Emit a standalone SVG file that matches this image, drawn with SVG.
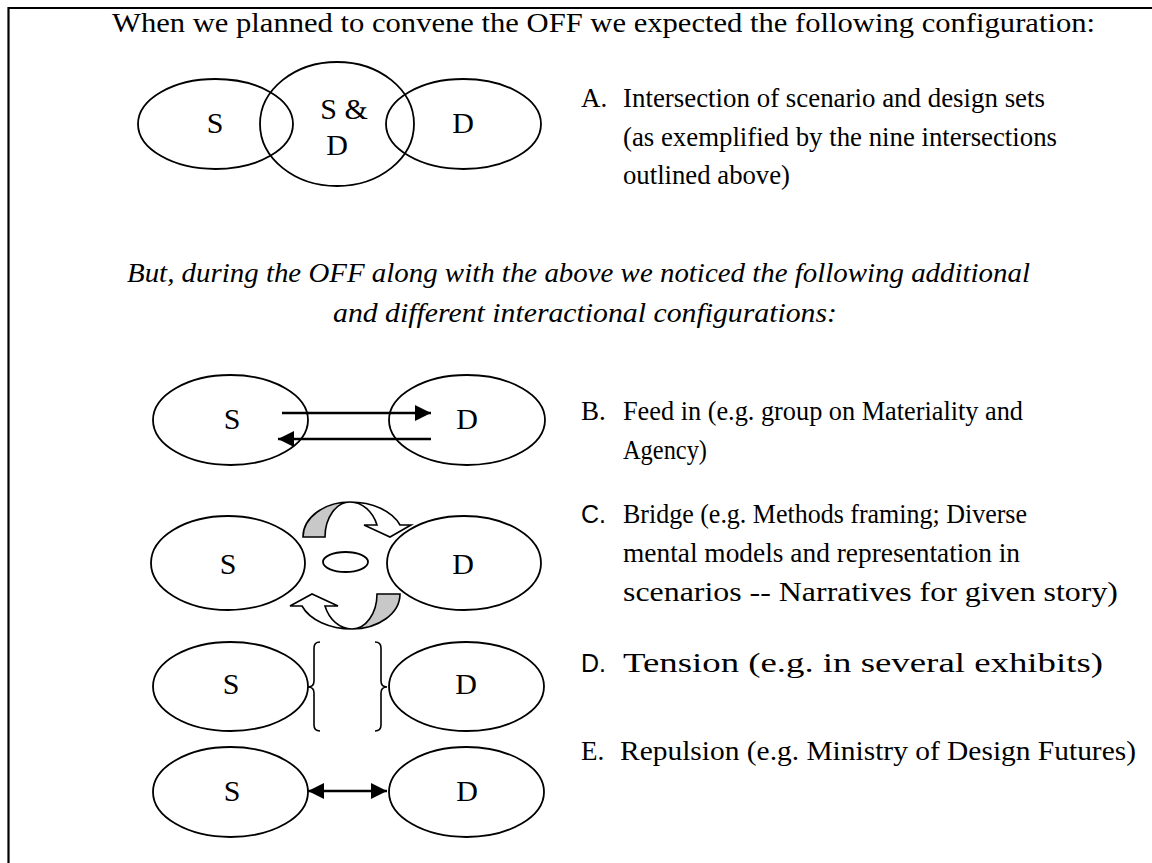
<svg xmlns="http://www.w3.org/2000/svg" width="1152" height="863" viewBox="0 0 1152 863">
<style>
.body{font-family:"Liberation Serif","Times New Roman",serif;font-size:27px;fill:#000}
.it{font-style:italic}
.w{font-size:28px}
.sans{font-family:"Liberation Sans","DejaVu Sans",sans-serif;font-size:25px}
.lbl{font-family:"Liberation Serif","Times New Roman",serif;font-size:30px;fill:#000;text-anchor:middle}
.ell{fill:none;stroke:#000;stroke-width:1.8}
.line{stroke:#000;stroke-width:2.6;fill:none}
.brace{fill:none;stroke:#000;stroke-width:1.6}
.band{stroke:#000;stroke-width:1.6;stroke-linejoin:miter}
</style>
<defs>
<marker id="ah" markerUnits="userSpaceOnUse" markerWidth="18" markerHeight="16" refX="16" refY="8" orient="auto-start-reverse">
<path d="M0,0 L16,8 L0,16 Z" fill="#000"/>
</marker>
</defs>
<rect width="1152" height="863" fill="#fff"/>
<g id="frame">
<line x1="8" y1="8" x2="1152" y2="8" stroke="#000" stroke-width="2.2"/>
<line x1="8.5" y1="7" x2="8.5" y2="863" stroke="#000" stroke-width="2.2"/>
</g>
<g id="texts" class="body">
<text x="112" y="32" textLength="983" lengthAdjust="spacingAndGlyphs">When we planned to convene the OFF we expected the following configuration:</text>
<text x="581" y="107">A.</text>
<text x="623" y="107" textLength="422" lengthAdjust="spacingAndGlyphs">Intersection of scenario and design sets</text>
<text x="623" y="146" textLength="434" lengthAdjust="spacingAndGlyphs">(as exemplified by the nine intersections</text>
<text x="623" y="184" textLength="167" lengthAdjust="spacingAndGlyphs">outlined above)</text>
<text class="it" x="127" y="282" textLength="903" lengthAdjust="spacingAndGlyphs">But, during the OFF along with the above we noticed the following additional</text>
<text class="it" x="333" y="322" textLength="504" lengthAdjust="spacingAndGlyphs">and different interactional configurations:</text>
<text x="581" y="420">B.</text>
<text x="623" y="420" textLength="400" lengthAdjust="spacingAndGlyphs">Feed in (e.g. group on Materiality and</text>
<text x="623" y="459" textLength="84" lengthAdjust="spacingAndGlyphs">Agency)</text>
<text class="sans" x="581" y="523">C.</text>
<text x="623" y="523" textLength="404" lengthAdjust="spacingAndGlyphs">Bridge (e.g. Methods framing; Diverse</text>
<text x="623" y="562" textLength="397" lengthAdjust="spacingAndGlyphs">mental models and representation in</text>
<text class="w" x="623" y="601" textLength="495" lengthAdjust="spacingAndGlyphs">scenarios -- Narratives for given story)</text>
<text class="sans" x="581" y="672">D.</text>
<text class="w" x="623" y="672" textLength="480" lengthAdjust="spacingAndGlyphs">Tension (e.g. in several exhibits)</text>
<text x="581" y="760">E.</text>
<text class="w" x="620" y="760" textLength="516" lengthAdjust="spacingAndGlyphs">Repulsion (e.g. Ministry of Design Futures)</text>
</g>
<g id="A-S"><ellipse class="ell" cx="215.5" cy="124" rx="77.5" ry="45"/><text class="lbl" x="215" y="133">S</text></g>
<g id="A-SD"><ellipse class="ell" cx="337" cy="124" rx="77" ry="62"/><text class="lbl" x="344" y="119">S &amp;</text><text class="lbl" x="337" y="155">D</text></g>
<g id="A-D"><ellipse class="ell" cx="463.5" cy="124" rx="77.5" ry="45"/><text class="lbl" x="463" y="133">D</text></g>
<g id="B-S"><ellipse class="ell" cx="230.5" cy="420" rx="77.5" ry="45"/><text class="lbl" x="232" y="429">S</text></g>
<g id="B-D"><ellipse class="ell" cx="467" cy="420" rx="78" ry="45"/><text class="lbl" x="467" y="429">D</text></g>
<g id="C-S"><ellipse class="ell" cx="228" cy="563" rx="77" ry="47"/><text class="lbl" x="228" y="574">S</text></g>
<g id="C-mid"><ellipse class="ell" cx="345.5" cy="562" rx="22.5" ry="10"/></g>
<g id="C-D"><ellipse class="ell" cx="464" cy="563" rx="77" ry="47"/><text class="lbl" x="463" y="574">D</text></g>
<g id="D-S"><ellipse class="ell" cx="230.5" cy="686.5" rx="77.5" ry="44.5"/><text class="lbl" x="231" y="694">S</text></g>
<g id="D-D"><ellipse class="ell" cx="466.5" cy="686.5" rx="77.5" ry="44.5"/><text class="lbl" x="466" y="694">D</text></g>
<g id="E-S"><ellipse class="ell" cx="230.5" cy="792" rx="77.5" ry="45"/><text class="lbl" x="232" y="801">S</text></g>
<g id="E-D"><ellipse class="ell" cx="466.5" cy="792" rx="77.5" ry="45"/><text class="lbl" x="467" y="801">D</text></g>
<g id="connectors">
<line class="line" x1="282" y1="413" x2="431" y2="413" marker-end="url(#ah)"/>
<line class="line" x1="431" y1="439" x2="278" y2="439" marker-end="url(#ah)"/>
<path class="band" fill="#c8c8c8" d="M303,537 A47,35 0 0 1 350,502 A25,35 0 0 0 325,537 Z"/>
<path class="band" fill="#fff" d="M350,502 A53,35 0 0 1 400,525 L411,525 L390,537 L364,525 L377,525 A29,35 0 0 0 350,502 Z"/>
<path class="band" fill="#c8c8c8" d="M400,594 A48,35 0 0 1 352,629 A25,35 0 0 0 377,594 Z"/>
<path class="band" fill="#fff" d="M352,629 A53,35 0 0 1 302,606 L290,606 L312,594 L338,606 L325,606 A29,35 0 0 0 352,629 Z"/>
<path class="brace" d="M320,642 Q314,642 314,648 L314,681 Q314,687 308,687 Q314,687 314,693 L314,725 Q314,731 320,731"/>
<path class="brace" d="M375,642 Q381,642 381,648 L381,681 Q381,687 387,687 Q381,687 381,693 L381,725 Q381,731 375,731"/>
<line class="line" x1="308" y1="791" x2="387" y2="791" marker-start="url(#ah)" marker-end="url(#ah)"/>
</g>
</svg>
